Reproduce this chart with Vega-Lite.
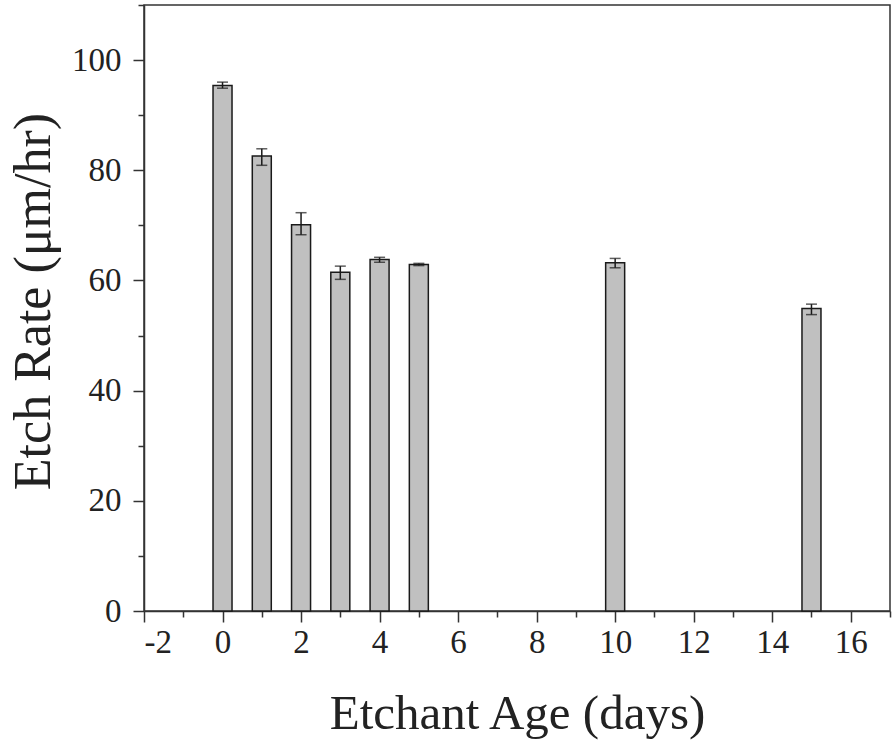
{
  "$schema": "https://vega.github.io/schema/vega-lite/v6.json",
  "width": 746,
  "height": 606,
  "autosize": {"type": "none"},
  "padding": {"left": 144, "top": 5, "right": 6, "bottom": 133},
  "background": "white",
  "config": {
    "view": {"stroke": "#333333", "strokeWidth": 1.5},
    "axis": {
      "domainColor": "#333333", "domainWidth": 1.5,
      "tickColor": "#333333", "tickWidth": 1.5,
      "labelFont": "Liberation Serif", "labelColor": "#222222",
      "titleFont": "Liberation Serif", "titleColor": "#222222", "titleFontWeight": "normal",
      "grid": false
    }
  },
  "data": {
    "values": [
      {"age": 0, "rate": 95.4, "lo": 94.9, "hi": 96.0},
      {"age": 1, "rate": 82.6, "lo": 80.9, "hi": 83.9},
      {"age": 2, "rate": 70.1, "lo": 68.3, "hi": 72.3},
      {"age": 3, "rate": 61.5, "lo": 60.2, "hi": 62.6},
      {"age": 4, "rate": 63.8, "lo": 63.3, "hi": 64.2},
      {"age": 5, "rate": 62.9, "lo": 62.7, "hi": 63.1},
      {"age": 10, "rate": 63.2, "lo": 62.3, "hi": 64.0},
      {"age": 15, "rate": 54.9, "lo": 53.8, "hi": 55.7}
    ]
  },
  "resolve": {"axis": {"x": "independent", "y": "independent"}},
  "layer": [
    {
      "mark": {"type": "bar", "size": 19, "fill": "#c0c0c0", "stroke": "#1a1a1a", "strokeWidth": 1.5},
      "encoding": {
        "x": {
          "field": "age", "type": "quantitative",
          "scale": {"domain": [-2, 17], "nice": false, "zero": false, "padding": 0},
          "axis": {
            "orient": "bottom", "values": [-2, 0, 2, 4, 6, 8, 10, 12, 14, 16],
            "labelExpr": "datum.value < 0 ? '-' + abs(datum.value) : datum.label",
            "tickSize": 11, "labelFontSize": 33, "labelPadding": 4,
            "title": "Etchant Age (days)", "titleFontSize": 49,
            "titleBaseline": "alphabetic", "titleY": 117
          }
        },
        "y": {
          "field": "rate", "type": "quantitative",
          "scale": {"domain": [0, 110], "nice": false, "padding": 0},
          "axis": {
            "orient": "left", "values": [0, 20, 40, 60, 80, 100],
            "tickSize": 11, "labelFontSize": 33, "labelPadding": 12,
            "title": "Etch Rate (μm/hr)", "titleFontSize": 52,
            "titleBaseline": "alphabetic", "titleX": -95, "titleY": 296, "titleAngle": -90, "titleAlign": "center"
          }
        }
      }
    },
    {
      "mark": {"type": "errorbar", "ticks": {"size": 11, "thickness": 1.5, "color": "#1a1a1a"}, "rule": {"strokeWidth": 1.5, "color": "#1a1a1a"}},
      "encoding": {
        "x": {
          "field": "age", "type": "quantitative",
          "scale": {"domain": [-2, 17], "nice": false, "zero": false, "padding": 0},
          "axis": {
            "orient": "bottom", "values": [-1, 1, 3, 5, 7, 9, 11, 13, 15, 17],
            "tickSize": 6, "labels": false, "domain": false, "title": null
          }
        },
        "y": {
          "field": "lo", "type": "quantitative",
          "scale": {"domain": [0, 110], "nice": false, "padding": 0},
          "axis": {
            "orient": "left", "values": [10, 30, 50, 70, 90, 110],
            "tickSize": 6, "labels": false, "domain": false, "title": null
          }
        },
        "y2": {"field": "hi"}
      }
    }
  ]
}
